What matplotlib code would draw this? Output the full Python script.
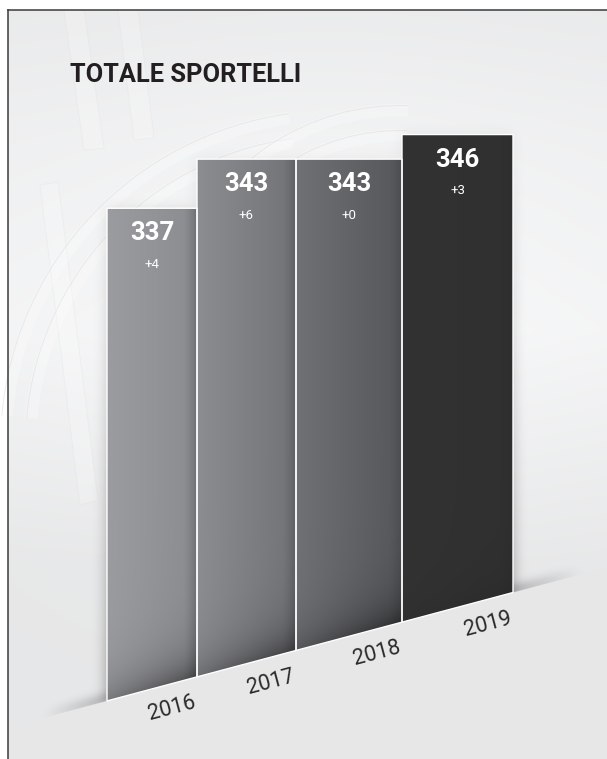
import numpy as np
import matplotlib
matplotlib.use("Agg")
import matplotlib.pyplot as plt
from matplotlib.patches import Polygon, Arc
from matplotlib.colors import to_rgb

anni = ["2016", "2017", "2018", "2019"]
sportelli = [337, 343, 343, 346]
variazione = [4, 6, 0, 3]

W, H = 607, 759
DPI = 100

# bar edges (pixels) and the value range of the bar axes
bordi = [107, 197, 296, 402, 513]
V_TOP, V_BOT = 362.43, 269.75
SCALA = H / (V_TOP - V_BOT)

# gradient colours per bar: left, right, shadowed right edge
colori = [("#9b9ca0", "#8b8c90", "#6e6f73"),
          ("#8c8d91", "#727377", "#5e5f63"),
          ("#707175", "#56575a", "#4c4d50"),
          ("#333233", "#313031", "#2f2e2f")]


def base_px(x):
    # slanted floor line, pixel coordinates (y down)
    return 718 - 0.267 * (np.asarray(x, float) - 43)


def val(py):
    return V_TOP - np.asarray(py, float) / SCALA


def px(v):
    return (V_TOP - np.asarray(v, float)) * SCALA


def sfoca(a, s):
    r = int(3 * s)
    k = np.exp(-0.5 * (np.arange(-r, r + 1) / s) ** 2)
    k /= k.sum()
    a = np.apply_along_axis(lambda v: np.convolve(v, k, mode="same"), 0, a)
    return np.apply_along_axis(lambda v: np.convolve(v, k, mode="same"), 1, a)


fig = plt.figure(figsize=(W / DPI, H / DPI), dpi=DPI)
bg = fig.add_axes([0, 0, 1, 1])
bg.set_xlim(0, W)
bg.set_ylim(H, 0)
bg.axis("off")

# background
yy, xx = np.mgrid[0:H, 0:W] + 0.5
g = np.interp(yy, [10, 150, 330, 560, H], [0.915, 0.935, 0.95, 0.905, 0.903])
g = g + 0.02 * np.exp(-((xx - 330) ** 2 + (yy - 300) ** 2) / (2 * 200 ** 2))
sfondo = np.dstack([g, g + 0.003, g + 0.006]).clip(0, 1)
sfondo[(xx < 8) | (yy < 10)] = 1.0
bg.imshow(sfondo, extent=(0, W, H, 0), aspect="auto", zorder=0)

# faint logo watermark
for pts in ([(64, 10), (84, 10), (104, 148), (84, 150)],
            [(118, 10), (138, 10), (154, 138), (134, 140)],
            [(40, 185), (58, 182), (98, 500), (80, 505)]):
    bg.add_patch(Polygon(pts, closed=True, facecolor="white", alpha=0.2,
                         edgecolor="#d8d8d8", lw=0.7, zorder=1))
for cx, cy, r, a0, a1 in ((335, 445, 330, 185, 262), (335, 445, 305, 185, 262),
                          (400, 340, 230, 200, 272), (400, 340, 205, 200, 272)):
    bg.add_patch(Arc((cx, cy), 2 * r, 2 * r, theta1=a0, theta2=a1,
                     color="white", lw=9, alpha=0.25, zorder=1))
    bg.add_patch(Arc((cx, cy), 2 * r + 9, 2 * r + 9, theta1=a0, theta2=a1,
                     color="#d8d8d8", lw=0.7, alpha=0.45, zorder=1))

# soft shadow cast by the bars and along the floor line
m_bar = np.zeros((H, W))
m_lin = np.zeros((H, W))
for i, v in enumerate(sportelli):
    for c in range(bordi[i], bordi[i + 1]):
        m_bar[int(px(v)):int(base_px(c)), c] = 1
for c in range(43, 583):
    w = min(1, (c - 43) / 64, (582 - c) / 69)
    r = int(base_px(c))
    m_lin[r - 4:r + 1, c] = max(w, 0)
peso = 0.06 + 0.34 * np.clip((yy - 160) / 520, 0, 1)
ombra = sfoca(m_bar, 7) * peso + sfoca(m_lin, 5) * 0.55
rgba = np.zeros((H, W, 4))
rgba[..., 3] = ombra.clip(0, 0.6)
bg.imshow(rgba, extent=(0, W, H, 0), aspect="auto", interpolation="bilinear", zorder=2)

# floor below the slanted line
bg.add_patch(Polygon([(8.6, base_px(8.6)), (W, base_px(W)), (W, H), (8.6, H)],
                     closed=True, facecolor=sfondo[H - 1, W // 2], edgecolor="none", zorder=3))

# frame
bg.plot([8, 8], [10, H], color="#3a3a3a", lw=1.1, zorder=4)
bg.plot([8, W], [10, 10], color="#3a3a3a", lw=1.1, zorder=4)

bg.text(70, 82, "TOTALE SPORTELLI", fontsize=18.3, fontweight="bold",
        family="Roboto", color="#231f20", va="baseline", ha="left", zorder=5)

# bars
ax = fig.add_axes([0, 0, 1, 1])
ax.set_xlim(0, W)
ax.set_ylim(V_BOT, V_TOP)
ax.axis("off")
ax.patch.set_alpha(0)

for i, v in enumerate(sportelli):
    x0, x1 = bordi[i], bordi[i + 1]
    sx, dx, bordo = (np.array(to_rgb(c)) for c in colori[i])
    cx = x0 + np.arange(x1 - x0) + 0.5
    t = (cx - x0) / (x1 - x0)
    col = sx[None, :] * (1 - t[:, None]) + dx[None, :] * t[:, None]
    s = (np.clip((cx - (x1 - 14)) / 14, 0, 1) ** 1.5)[:, None]
    col = col * (1 - s) + bordo[None, :] * s
    top = px(v)
    nrow = int(np.ceil(base_px(x0) - top)) + 1
    cy = top + np.arange(nrow) + 0.5
    d = np.clip(base_px(cx)[None, :] - cy[:, None], 0, None)
    k = 0.1 if i == 3 else 0.45
    f = 1 - k * np.exp(-d / 24) * (0.5 + 0.5 * t[None, :])
    img = (col[None, :, :] * f[:, :, None]).clip(0, 1)

    barra = Polygon([(x0, v), (x1, v), (x1, val(base_px(x1))), (x0, val(base_px(x0)))],
                    closed=True, facecolor="none", edgecolor="white", lw=1.0, zorder=3)
    ax.add_patch(barra)
    im = ax.imshow(img, extent=(x0, x1, val(top + nrow), v), origin="upper",
                   aspect="auto", interpolation="bilinear", zorder=2)
    im.set_clip_path(barra)

    xc = (x0 + x1) / 2
    ax.annotate(str(v), xy=(xc, v), xytext=(0, -25), textcoords="offset pixels",
                ha="center", va="center", color="white", fontsize=18.5,
                fontweight="bold", family="Roboto", zorder=4)
    ax.annotate(f"+{variazione[i]}", xy=(xc, v), xytext=(0, -56), textcoords="offset pixels",
                ha="center", va="center", color="white", fontsize=9.5,
                family="Roboto", zorder=4)

    xa = x1 - 25
    ax.text(xa, val(base_px(xa) + 25), anni[i], rotation=15, rotation_mode="anchor",
            ha="center", va="center", fontsize=15.5, fontweight="normal",
            family="Roboto", color="#2a2a2a", zorder=4)

fig.savefig("out.png", dpi=DPI)
